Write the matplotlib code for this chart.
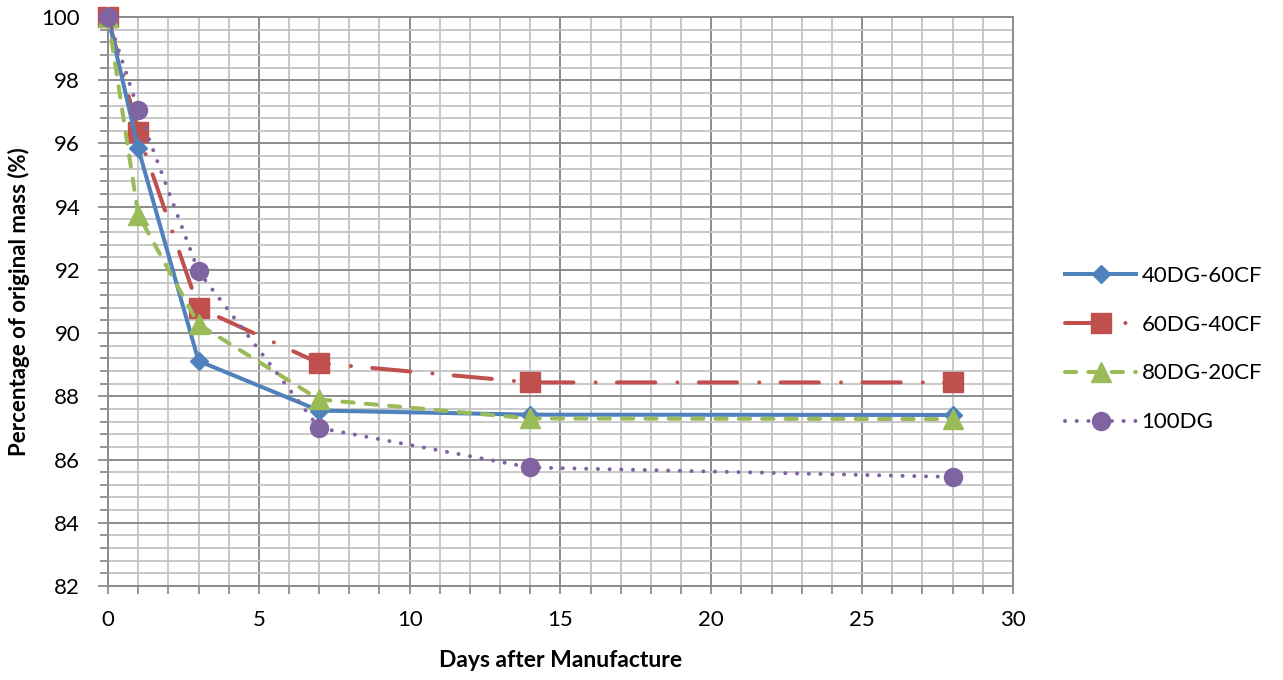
import numpy as np
import matplotlib
matplotlib.use('Agg')
from matplotlib import pyplot as plt
from matplotlib.ticker import MultipleLocator

plt.rcParams['font.family'] = ['Lato', 'DejaVu Sans']

# Data
days = [0, 1, 3, 7, 14, 28]
mass_40dg_60cf = [100, 95.85, 89.12, 87.55, 87.42, 87.41]
mass_60dg_40cf = [100, 96.35, 90.80, 89.05, 88.44, 88.44]
mass_80dg_20cf = [100, 93.75, 90.28, 87.90, 87.30, 87.28]
mass_100dg = [100, 97.06, 91.95, 87.00, 85.75, 85.45]
series_labels = ['40DG-60CF', '60DG-40CF', '80DG-20CF', '100DG']

col_blue = '#4F81BD'
col_red = '#C0504D'
col_green = '#9BBB59'
col_purple = '#8064A2'

fig = plt.figure(figsize=(12.83, 6.80), dpi=100)
ax = fig.add_axes([108/1283, 1 - 586/680, (1013-108)/1283, (586-17)/680])

lw = 2.9
ax.plot(days, mass_40dg_60cf, color=col_blue, lw=lw, marker='D', ms=9.5,
        mec=col_blue, solid_joinstyle='round', clip_on=False, zorder=4,
        label=series_labels[0])
ax.plot(days, mass_60dg_40cf, color=col_red, lw=lw, marker='s', ms=14,
        mec=col_red, dashes=(9.5, 5.5, 0.01, 5.3), dash_capstyle='round',
        clip_on=False, zorder=3, label=series_labels[1])
ax.plot(days, mass_80dg_20cf, color=col_green, lw=lw, marker='^', ms=14,
        mec=col_green, dashes=(2.8, 3.0), dash_capstyle='round',
        clip_on=False, zorder=5, label=series_labels[2])
ax.plot(days, mass_100dg, color=col_purple, lw=lw, marker='o', ms=13,
        mec=col_purple, dashes=(0.01, 2.9), dash_capstyle='round',
        clip_on=False, zorder=6, label=series_labels[3])

ax.set_xlim(0, 30)
ax.set_ylim(82, 100)
ax.xaxis.set_major_locator(MultipleLocator(5))
ax.xaxis.set_minor_locator(MultipleLocator(1))
ax.yaxis.set_major_locator(MultipleLocator(2))
ax.yaxis.set_minor_locator(MultipleLocator(0.4))

ax.grid(which='minor', color='#c4c4c4', lw=1.3, zorder=0)
ax.grid(which='major', color='#8c8c8c', lw=1.4, zorder=1)
ax.set_axisbelow(True)

for s in ax.spines.values():
    s.set_color('#8c8c8c')
    s.set_linewidth(1.4)

ax.tick_params(which='both', direction='out', color='#8c8c8c', width=1.3,
               labelsize=16, labelcolor='black')
ax.tick_params(axis='y', which='major', length=7, pad=13)
ax.tick_params(axis='y', which='minor', length=6)
ax.tick_params(axis='x', which='both', length=6, pad=11)

ax.set_xlabel('Days after Manufacture', fontsize=16.5, fontweight='bold', labelpad=15)
ax.set_ylabel('Percentage of original mass (%)', fontsize=16, fontweight='bold', labelpad=8)

fig.legend(loc='center left', bbox_to_anchor=(1065/1283, 1 - 349/680),
           frameon=False, fontsize=16, handlelength=3.2, handletextpad=0.25,
           labelspacing=1.3, borderpad=0, borderaxespad=0, numpoints=1)

fig.savefig('out.png', dpi=100)
